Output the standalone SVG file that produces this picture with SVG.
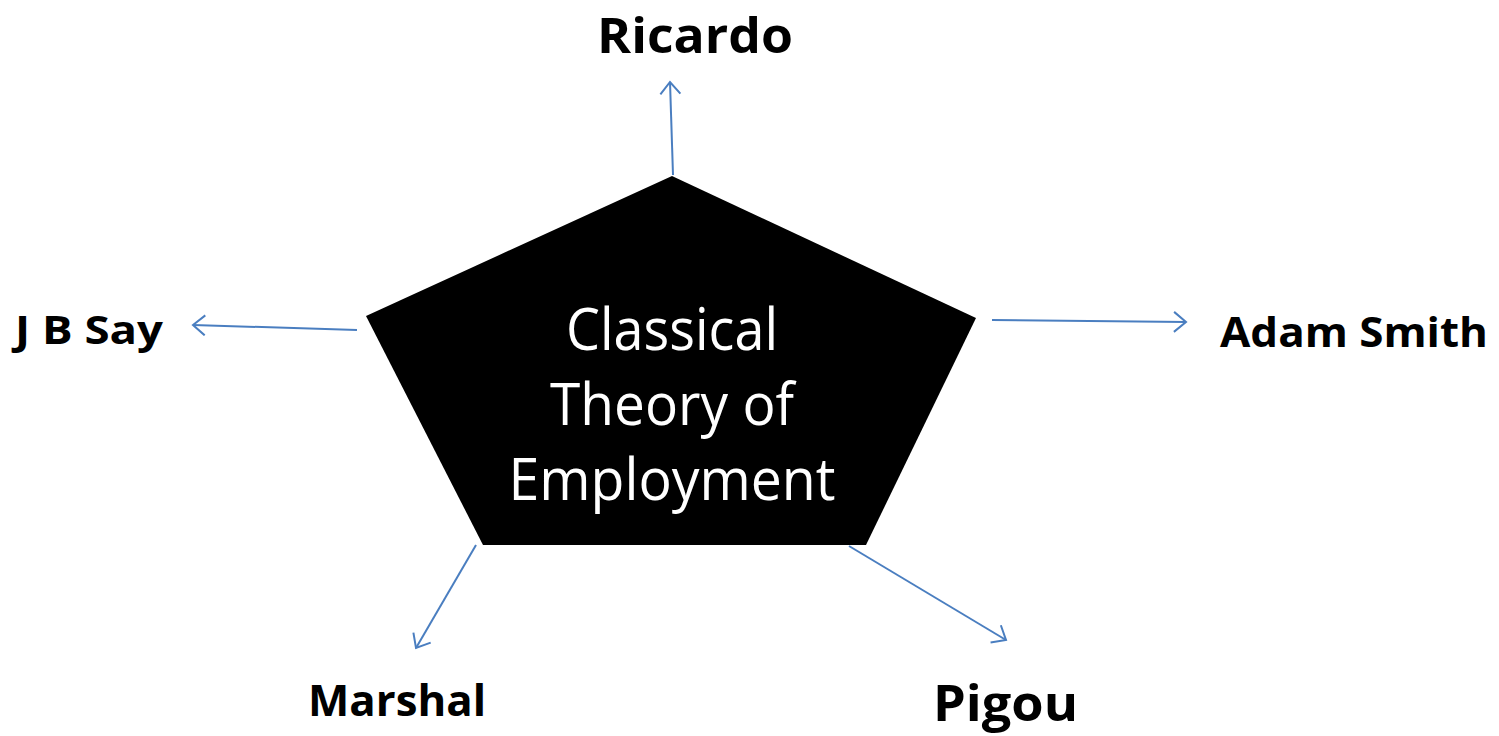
<svg xmlns="http://www.w3.org/2000/svg" width="1499" height="736" viewBox="0 0 1499 736">
<style>
.lbl{font-family:"Open Sans","Liberation Sans",sans-serif;font-weight:bold;fill:#000}
.ctr{font-family:"Open Sans","Liberation Sans",sans-serif;fill:#fff;font-size:58px}
.conn{stroke:#4A7EC0;stroke-width:2;fill:none;marker-end:url(#arr)}
</style>
<defs>
<marker id="arr" markerUnits="userSpaceOnUse" markerWidth="20" markerHeight="24" refX="14" refY="11" orient="auto">
<path d="M2,1 L14,11 L2,21" fill="none" stroke="#4A7EC0" stroke-width="2"/>
</marker>
</defs>
<rect width="1499" height="736" fill="#fff"/>
<g id="center">
<polygon points="672,176 976,318 866,545 483,545 366,316" fill="#000"/>
<text class="ctr" x="672" y="350" text-anchor="middle" textLength="212" lengthAdjust="spacingAndGlyphs">Classical</text>
<text class="ctr" x="672" y="425" text-anchor="middle" textLength="244" lengthAdjust="spacingAndGlyphs">Theory of</text>
<text class="ctr" x="672" y="500" text-anchor="middle" textLength="327" lengthAdjust="spacingAndGlyphs">Employment</text>
</g>
<g id="connectors">
<line class="conn" x1="673" y1="175" x2="670" y2="82"/>
<line class="conn" x1="357" y1="330" x2="193" y2="325"/>
<line class="conn" x1="992" y1="320" x2="1186" y2="322"/>
<line class="conn" x1="476" y1="545" x2="416" y2="648"/>
<line class="conn" x1="849" y1="546" x2="1006" y2="640"/>
</g>
<g id="ricardo"><text class="lbl" x="597" y="53" font-size="48" textLength="196" lengthAdjust="spacingAndGlyphs">Ricardo</text></g>
<g id="jbsay"><text class="lbl" x="15" y="344" font-size="40" textLength="148" lengthAdjust="spacingAndGlyphs">J B Say</text></g>
<g id="adamsmith"><text class="lbl" x="1220" y="347" font-size="42" textLength="268" lengthAdjust="spacingAndGlyphs">Adam Smith</text></g>
<g id="marshal"><text class="lbl" x="308" y="716" font-size="43" textLength="178" lengthAdjust="spacingAndGlyphs">Marshal</text></g>
<g id="pigou"><text class="lbl" x="933" y="721" font-size="50" textLength="145" lengthAdjust="spacingAndGlyphs">Pigou</text></g>
</svg>
